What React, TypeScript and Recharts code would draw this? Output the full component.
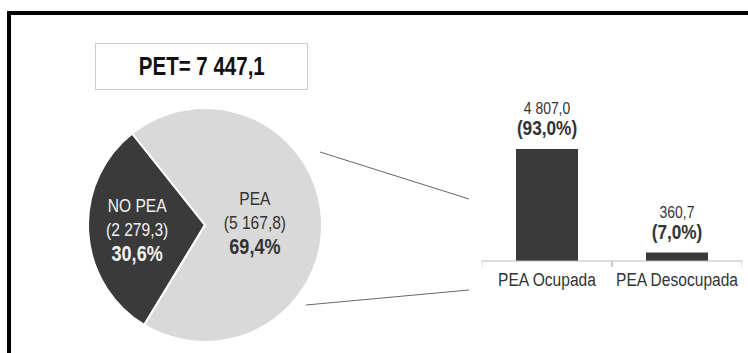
import { Bar, BarChart, Cell, LabelList, Pie, PieChart, XAxis, YAxis } from "recharts"

// pie: PET split
const pieNames = ["NO PEA", "PEA"]
const pieValues = [2279.3, 5167.8]
const piePercents = ["30,6%", "69,4%"]

// bars: PEA split
const barCategories = ["PEA Ocupada", "PEA Desocupada"]
const barValues = [4807.0, 360.7]
const barPercents = ["93,0%", "7,0%"]

const petTotal = 7447.1

const FONT = '"Liberation Sans", Arial, sans-serif'
const NARROW = 0.82 // squeeze to look like a condensed face
const DARK = "#3a3a3a"
const LIGHT = "#d9d9d9"

const fmt = (v: number) => {
    const [i, d] = v.toFixed(1).split(".")
    return i.replace(/\B(?=(\d{3})+(?!\d))/g, " ") + "," + d
}

const pieData = pieNames.map((name, i) => ({ name, value: pieValues[i], pct: piePercents[i] }))
const barData = barCategories.map((name, i) => ({ name, value: barValues[i], pct: barPercents[i] }))

const renderPieLabel = (props: any) => {
    const { cx, cy, midAngle, index } = props
    const r = index === 0 ? 68 : 50
    const rad = (Math.PI / 180) * midAngle
    const x = cx + r * Math.cos(rad)
    const y = cy - r * Math.sin(rad)
    const d = pieData[index]
    const fill = index === 0 ? "#f2f2f2" : "#333"
    return (
        <g transform={`translate(${x},${y}) scale(${NARROW},1)`}>
            <text x={0} y={0} textAnchor="middle" fill={fill} fontFamily={FONT}>
                <tspan x={0} dy={-17} fontSize={19}>{d.name}</tspan>
                <tspan x={0} dy={24} fontSize={19}>({fmt(d.value)})</tspan>
                <tspan x={0} dy={25} fontSize={22} fontWeight="bold">{d.pct}</tspan>
            </text>
        </g>
    )
}

const renderBarLabel = (props: any) => {
    const { x, y, width, index } = props
    const cx = x + width / 2
    return (
        <g transform={`translate(${cx},${y}) scale(${NARROW},1)`}>
            <text x={0} y={0} textAnchor="middle" fill="#333" fontFamily={FONT}>
                <tspan x={0} dy={-35} fontSize={17}>{fmt(barData[index].value)}</tspan>
                <tspan x={0} dy={21} fontSize={21} fontWeight="bold">({barData[index].pct})</tspan>
            </text>
        </g>
    )
}

const renderTick = (props: any) => {
    const { x, y, payload } = props
    return (
        <g>
            <line x1={x - 65} y1={y - 8} x2={x - 65} y2={y - 2} stroke="#bbb" />
            <line x1={x + 65} y1={y - 8} x2={x + 65} y2={y - 2} stroke="#bbb" />
            <g transform={`translate(${x},${y + 17}) scale(${NARROW},1)`}>
                <text x={0} y={0} textAnchor="middle" fill="#333" fontSize={19} fontFamily={FONT}>
                    {payload.value}
                </text>
            </g>
        </g>
    )
}

export default function App() {
    return (
        <div style={{ position: "absolute", left: 0, top: 0, width: 748, height: 353, background: "#fff", overflow: "hidden" }}>
            <div style={{ position: "absolute", left: 7, top: 11, width: 760, height: 360, borderLeft: "4px solid #000", borderTop: "4px solid #000" }} />
            <div
                style={{
                    position: "absolute", left: 95, top: 43, width: 211, height: 45,
                    border: "1px solid #ccc", display: "flex", alignItems: "center", justifyContent: "center"
                }}
            >
                <span style={{ fontFamily: FONT, fontWeight: "bold", fontSize: 25, color: "#111", transform: `scaleX(${NARROW})`, whiteSpace: "nowrap" }}>
                    PET= {fmt(petTotal)}
                </span>
            </div>
            <svg width={748} height={353} style={{ position: "absolute", left: 0, top: 0 }}>
                <line x1={320} y1={152} x2={469} y2={199} stroke="#666" strokeWidth={1} />
                <line x1={306} y1={305} x2={469} y2={290} stroke="#666" strokeWidth={1} />
            </svg>
            <div style={{ position: "absolute", left: 0, top: 0 }}>
                <PieChart width={420} height={353} margin={{ top: 0, right: 0, bottom: 0, left: 0 }}>
                    <Pie
                        data={pieData}
                        dataKey="value"
                        cx={205}
                        cy={225}
                        outerRadius={117}
                        startAngle={128.5}
                        endAngle={488.5}
                        stroke="#fff"
                        strokeWidth={2}
                        label={renderPieLabel}
                        labelLine={false}
                        isAnimationActive={false}
                    >
                        {pieData.map((d, i) => (
                            <Cell key={d.name} fill={i === 0 ? DARK : LIGHT} />
                        ))}
                    </Pie>
                </PieChart>
            </div>
            <div style={{ position: "absolute", left: 482, top: 100 }}>
                <BarChart width={260} height={200} data={barData} margin={{ top: 49, right: 0, bottom: 0, left: 0 }} barSize={62}>
                    <XAxis dataKey="name" height={39} axisLine={{ stroke: "#bbb" }} tickLine={false} tick={renderTick} interval={0} />
                    <YAxis hide domain={[0, "dataMax"]} />
                    <Bar dataKey="value" fill={DARK} isAnimationActive={false}>
                        <LabelList dataKey="value" content={renderBarLabel} />
                    </Bar>
                </BarChart>
            </div>
        </div>
    )
}
